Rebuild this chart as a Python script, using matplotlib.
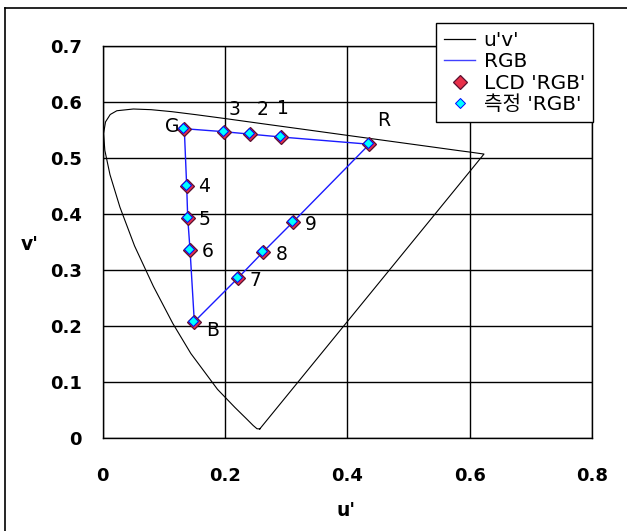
import matplotlib
matplotlib.use("Agg")
import matplotlib.pyplot as plt
from matplotlib.lines import Line2D

# ---- data ----
# spectral locus (u', v'), closed back to the start
locus_u = [0.2568, 0.2522, 0.2461, 0.2347, 0.2161, 0.1877, 0.1441, 0.1147, 0.0828,
           0.0521, 0.0282, 0.0119, 0.0035, 0.0014, 0.0046, 0.0123, 0.0231, 0.0501,
           0.0792, 0.1127, 0.1531, 0.2026, 0.2623, 0.3315, 0.4035, 0.5203, 0.5830,
           0.6005, 0.6234, 0.2568]
locus_v = [0.0165, 0.0169, 0.0226, 0.0350, 0.0549, 0.0871, 0.1510, 0.2044, 0.2708,
           0.3427, 0.4117, 0.4698, 0.5130, 0.5431, 0.5638, 0.5770, 0.5837, 0.5868,
           0.5856, 0.5821, 0.5766, 0.5694, 0.5604, 0.5501, 0.5393, 0.5219, 0.5125,
           0.5100, 0.5065, 0.0165]

point_names = ["R", "1", "2", "3", "G", "4", "5", "6", "B", "7", "8", "9"]
lcd_u = [0.436, 0.2915, 0.2411, 0.1988, 0.1334, 0.1373, 0.1390, 0.1428, 0.1498, 0.2207, 0.2626, 0.3116]
lcd_v = [0.524, 0.5369, 0.5420, 0.5463, 0.5517, 0.4496, 0.3930, 0.3355, 0.2077, 0.2850, 0.3324, 0.3859]
meas_u = [0.434, 0.2898, 0.2394, 0.1971, 0.1317, 0.1356, 0.1373, 0.1411, 0.1481, 0.2190, 0.2609, 0.3099]
meas_v = [0.526, 0.5387, 0.5438, 0.5481, 0.5535, 0.4514, 0.3948, 0.3373, 0.2095, 0.2868, 0.3342, 0.3877]

x_ticks = [0, 0.2, 0.4, 0.6, 0.8]
x_tick_labels = ["0", "0.2", "0.4", "0.6", "0.8"]
y_ticks = [0, 0.1, 0.2, 0.3, 0.4, 0.5, 0.6, 0.7]
y_tick_labels = ["0", "0.1", "0.2", "0.3", "0.4", "0.5", "0.6", "0.7"]

legend_labels = ["u'v'", "RGB", "LCD 'RGB'", "측정 'RGB'"]

# label offsets in pixels (style only)
label_offsets = [(14, 24), (2, 28), (12, 25), (10, 22), (-12, 2), (17, -1),
                 (17, -2), (18, -2), (18, -9), (18, -2), (18, -3), (18, -3)]

# ---- figure ----
plt.rcParams['font.family'] = ['DejaVu Sans', 'Noto Sans CJK KR']
fig = plt.figure(figsize=(6.27, 5.31), dpi=100)
fig.patch.set_facecolor('white')

ax = fig.add_axes([102.7 / 627, 1 - 438.2 / 531, (592 - 102.7) / 627, (438.2 - 45.5) / 531])
ax.set_xlim(0, 0.8)
ax.set_ylim(0, 0.7)

# grid
for xv in x_ticks:
    ax.axvline(xv, color='black', lw=1.0, zorder=1)
for yv in y_ticks:
    ax.axhline(yv, color='black', lw=1.0, zorder=1)

ax.set_xticks(x_ticks)
ax.set_xticklabels(x_tick_labels)
ax.set_yticks(y_ticks)
ax.set_yticklabels(y_tick_labels)
ax.tick_params(axis='x', length=0, pad=21, labelsize=13)
ax.tick_params(axis='y', length=0, pad=15, labelsize=13)
for lab in ax.get_xticklabels() + ax.get_yticklabels():
    lab.set_fontweight('bold')
for sp in ax.spines.values():
    sp.set_color('black')
    sp.set_linewidth(1.0)

# locus
ax.plot(locus_u, locus_v, color='black', lw=0.8, zorder=2)

# RGB polygon (closed)
poly_u = lcd_u + [lcd_u[0]]
poly_v = lcd_v + [lcd_v[0]]
ax.plot(poly_u, poly_v, color='#1a1aff', lw=1.0, zorder=3)

# markers
ax.plot(lcd_u, lcd_v, linestyle='none', marker='D', markersize=7.4,
        markerfacecolor='#e8304a', markeredgecolor='#5a1030', markeredgewidth=0.9, zorder=4)
ax.plot(meas_u, meas_v, linestyle='none', marker='D', markersize=4.8,
        markerfacecolor='#00ffff', markeredgecolor='#0000ff', markeredgewidth=0.7, zorder=5)

for name, u, v, off in zip(point_names, lcd_u, lcd_v, label_offsets):
    ax.annotate(name, (u, v), xytext=off, textcoords='offset pixels',
                ha='center', va='center', fontsize=13.5, color='black', zorder=6)

# axis labels
fig.text(346 / 627, 1 - 510 / 531, "u'", ha='center', va='center', fontsize=13.5, fontweight='bold')
fig.text(30 / 627, 1 - 244 / 531, "v'", ha='center', va='center', fontsize=13.5, fontweight='bold')

# legend
handles = [
    Line2D([], [], color='black', lw=0.9),
    Line2D([], [], color='#4040ff', lw=1.0),
    Line2D([], [], linestyle='none', marker='D', markersize=7.4, markerfacecolor='#e8304a',
           markeredgecolor='#5a1030', markeredgewidth=0.9),
    Line2D([], [], linestyle='none', marker='D', markersize=4.8, markerfacecolor='#00ffff',
           markeredgecolor='#0000ff', markeredgewidth=0.7),
]
leg = fig.legend(handles, legend_labels, loc='upper right',
                 bbox_to_anchor=(593 / 627, 1 - 23 / 531), bbox_transform=fig.transFigure,
                 fontsize=14.5, frameon=True, fancybox=False, shadow=False, framealpha=1,
                 edgecolor='black', borderpad=0.4, labelspacing=0.12, handlelength=1.5,
                 handletextpad=0.45, borderaxespad=0)
leg.get_frame().set_linewidth(1.0)
leg.set_zorder(10)

# outer border (top and left)
fig.add_artist(Line2D([5 / 627, 5 / 627], [0, 1 - 8 / 531], transform=fig.transFigure,
                      color='black', lw=1.2))
fig.add_artist(Line2D([5 / 627, 1], [1 - 8 / 531, 1 - 8 / 531], transform=fig.transFigure,
                      color='black', lw=1.2))

fig.savefig('out.png', dpi=100, facecolor='white')
